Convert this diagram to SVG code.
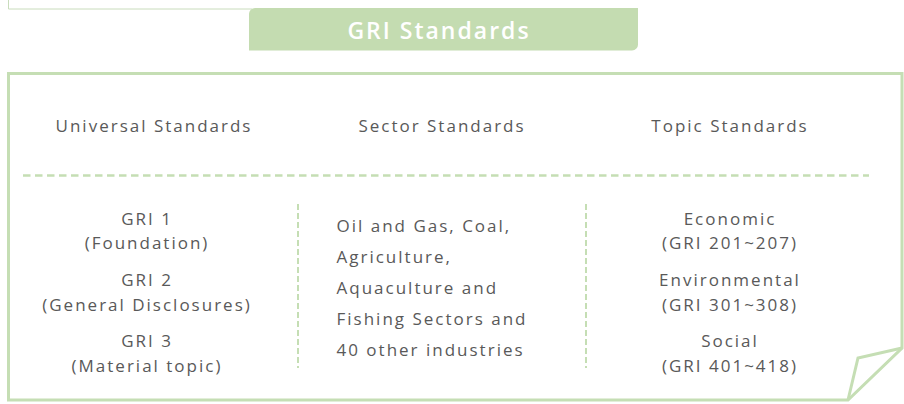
<svg xmlns="http://www.w3.org/2000/svg" width="904" height="404" viewBox="0 0 904 404">
<style>
.t{font-family:"Open Sans","Liberation Sans",sans-serif;font-size:17px;fill:#595959;letter-spacing:2px}
.c{text-anchor:middle}
.dash{stroke:#c5deb4;fill:none}
</style>
<rect width="904" height="404" fill="#ffffff"/>
<g id="title">
<path d="M8.5,0 V9 H252" fill="none" stroke="#c9dcbc" stroke-width="1"/>
<path d="M249,14 A6,6 0 0 1 255,8 H638 V44 A6,6 0 0 1 632,50.5 H249 Z" fill="#c4dcb1"/>
<text x="439" y="38.5" text-anchor="middle" style="font-family:'Open Sans','Liberation Sans',sans-serif;font-size:23px;font-weight:600;fill:#ffffff;letter-spacing:2px">GRI Standards</text>
</g>
<g id="frame">
<path d="M8.5,73.5 H902 V348 L848,400 H8.5 Z" fill="none" stroke="#c5deb4" stroke-width="3" stroke-linejoin="miter"/>
<path d="M902,348 L858,358 L848,400" fill="none" stroke="#c5deb4" stroke-width="3" stroke-linejoin="miter"/>
</g>
<g id="connectors">
<line class="dash" x1="23" y1="175.5" x2="869" y2="175.5" stroke-width="2.7" stroke-dasharray="7.5 4.5"/>
<line class="dash" x1="298" y1="204" x2="298" y2="368" stroke-width="2" stroke-dasharray="6 3"/>
<line class="dash" x1="586" y1="204" x2="586" y2="368" stroke-width="2" stroke-dasharray="6 3"/>
</g>
<g id="universal">
<text class="t c" x="154" y="132">Universal Standards</text>
<text class="t c" x="147" y="225">GRI 1</text>
<text class="t c" x="147" y="249">(Foundation)</text>
<text class="t c" x="147" y="286">GRI 2</text>
<text class="t c" x="147" y="311">(General Disclosures)</text>
<text class="t c" x="147" y="347">GRI 3</text>
<text class="t c" x="147" y="372">(Material topic)</text>
</g>
<g id="sector">
<text class="t c" x="442" y="132">Sector Standards</text>
<text class="t" x="336.5" y="232">Oil and Gas, Coal,</text>
<text class="t" x="336.5" y="263">Agriculture,</text>
<text class="t" x="336.5" y="294">Aquaculture and</text>
<text class="t" x="336.5" y="325">Fishing Sectors and</text>
<text class="t" x="336.5" y="356">40 other industries</text>
</g>
<g id="topic">
<text class="t c" x="730" y="132">Topic Standards</text>
<text class="t c" x="730" y="225">Economic</text>
<text class="t c" x="730" y="249">(GRI 201~207)</text>
<text class="t c" x="730" y="286">Environmental</text>
<text class="t c" x="730" y="311">(GRI 301~308)</text>
<text class="t c" x="730" y="347">Social</text>
<text class="t c" x="730" y="372">(GRI 401~418)</text>
</g>
</svg>
